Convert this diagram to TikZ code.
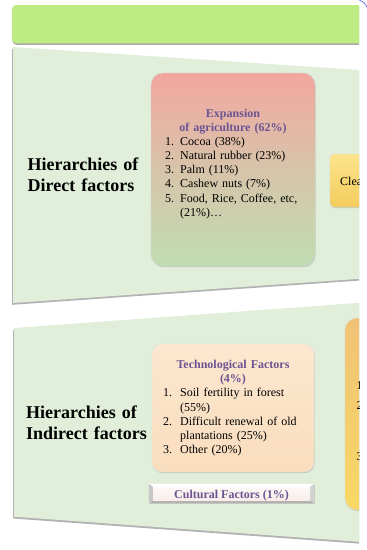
\documentclass[tikz,border=0pt]{standalone}
\usepackage{fontspec}
\setmainfont{Liberation Serif}
\usetikzlibrary{shadows}
\definecolor{panelG}{RGB}{225,238,217}
\definecolor{barG}{RGB}{189,236,130}
\definecolor{ttl}{RGB}{108,84,148}
\definecolor{pinkT}{RGB}{242,166,160}
\definecolor{pinkM}{RGB}{215,196,170}
\definecolor{pinkB}{RGB}{192,221,178}
\definecolor{peachT}{RGB}{252,231,207}
\definecolor{peachB}{RGB}{249,221,190}
\definecolor{yelT}{RGB}{252,228,140}
\definecolor{yelB}{RGB}{244,204,92}
\definecolor{orT}{RGB}{240,194,118}
\definecolor{orB}{RGB}{248,216,100}
\definecolor{faceC}{RGB}{249,238,232}
\newcommand\numlab[2]{\makebox[#1][l]{#2}}
\tikzset{
  panelshadow/.style={drop shadow={shadow xshift=-0.8pt, shadow yshift=-1.8pt, fill=black!55, opacity=0.55}},
  boxshadow/.style={drop shadow={shadow xshift=0.6pt, shadow yshift=-1.2pt, fill=black!40, opacity=0.4}},
  hier/.style={anchor=base west, inner sep=0pt, text width=130pt, align=left,
    font=\bfseries\fontsize{18}{21}\selectfont},
  boxttl/.style={anchor=base, inner sep=0pt, text width=160pt, align=center, text=ttl,
    font=\bfseries\fontsize{12}{14.2}\selectfont},
  lst/.style={anchor=base west, inner sep=0pt, text width=160pt, align=left,
    font=\fontsize{12}{14.3}\selectfont},
  plain/.style={anchor=base west, inner sep=0pt, font=\fontsize{12}{14.3}\selectfont},
}
\begin{document}
\begin{tikzpicture}[x=1pt,y=-1pt]
\useasboundingbox (0,0) rectangle (367,550);
\begin{scope}
\clip (0,0) rectangle (359,550);
% top bar
\path[fill=barG, rounded corners=4pt,
  drop shadow={shadow xshift=0.4pt, shadow yshift=-1.6pt, fill=black!55, opacity=0.6}]
  (12,5) rectangle (380,43.3);
% top panel
\path[fill=panelG, panelshadow] (13,47) -- (365,70.3) -- (365,278.4) -- (13,303) -- cycle;
% bottom panel
\path[fill=panelG, panelshadow] (14,328) -- (365,302.4) -- (365,542.2) -- (14,516.7) -- cycle;

% direct factors
\node[hier] (hd) at (27.5,170.5) {Hierarchies of\\Direct factors};
\node[minimum width=164pt, minimum height=193pt, rounded corners=12pt,
  top color=pinkT, bottom color=pinkB, middle color=pinkM, draw=black!18, line width=0.4pt,
  boxshadow] (exp) at (233,169.5) {};
\node[boxttl] (expT) at (233,117) {Expansion\\of agriculture (62\%)};
\node[lst] (expL) at (165,145) {\numlab{15pt}{1.}Cocoa (38\%)\\
  \numlab{15pt}{2.}Natural rubber (23\%)\\
  \numlab{15pt}{3.}Palm (11\%)\\
  \numlab{15pt}{4.}Cashew nuts (7\%)\\
  \numlab{15pt}{5.}Food, Rice, Coffee, etc,\\
  \hspace*{15pt}(21\%)…};
\node[minimum width=50pt, minimum height=53pt, rounded corners=4pt,
  top color=yelT, bottom color=yelB, draw=black!15, line width=0.4pt, boxshadow] (clea) at (355,180.5) {};
\node[plain] (cleaT) at (340,185) {Clea};

% indirect factors
\node[hier] (hi) at (26,418.5) {Hierarchies of\\Indirect factors};
\node[minimum width=162pt, minimum height=128pt, rounded corners=10pt,
  top color=peachT, bottom color=peachB, draw=black!12, line width=0.4pt, boxshadow] (tech) at (233,408) {};
\node[boxttl] (techT) at (233,368.5) {Technological Factors\\(4\%)};
\node[lst] (techL) at (163,396.7) {\numlab{17pt}{1.}Soil fertility in forest\\
  \hspace*{17pt}(55\%)\\
  \numlab{17pt}{2.}Difficult renewal of old\\
  \hspace*{17pt}plantations (25\%)\\
  \numlab{17pt}{3.}Other (20\%)};
% cultural factors (bevelled)
\node[minimum width=165pt, minimum height=19pt, inner sep=0pt, fill=faceC, boxshadow] (cult) at (231.5,493.5) {};
\path[fill=white] (cult.north west) -- (cult.north east) -- (310,487) -- (153,487) -- cycle;
\path[fill=black!30] (cult.south west) -- (cult.south east) -- (310,500.5) -- (153,500.5) -- cycle;
\path[fill=black!22] (cult.north west) -- (153,487) -- (153,500.5) -- (cult.south west) -- cycle;
\path[fill=black!18] (cult.north east) -- (310,487) -- (310,500.5) -- (cult.south east) -- cycle;
\path[top color=white!60!faceC, bottom color=faceC] (153,487) rectangle (310,500.5);
\node[anchor=base, inner sep=0pt, text=ttl, font=\bfseries\fontsize{12}{14}\selectfont] (cultT) at (231.5,498.5) {Cultural Factors (1\%)};
% right box
\node[minimum width=60pt, minimum height=192pt, rounded corners=12pt,
  top color=orT, bottom color=orB, draw=black!15, line width=0.4pt, boxshadow] (rbox) at (375,414) {};
\node[plain] (r1) at (356.5,389) {1.};
\node[plain] (r2) at (356.5,409) {2.};
\node[plain] (r3) at (356.5,460) {3.};
\end{scope}
\draw[color={rgb,255:red,100;green,120;blue,230}, line width=0.8pt] (359.5,0.4) .. controls (363,1.2) and (365.6,3.5) .. (367,7.5);
\end{tikzpicture}
\end{document}
